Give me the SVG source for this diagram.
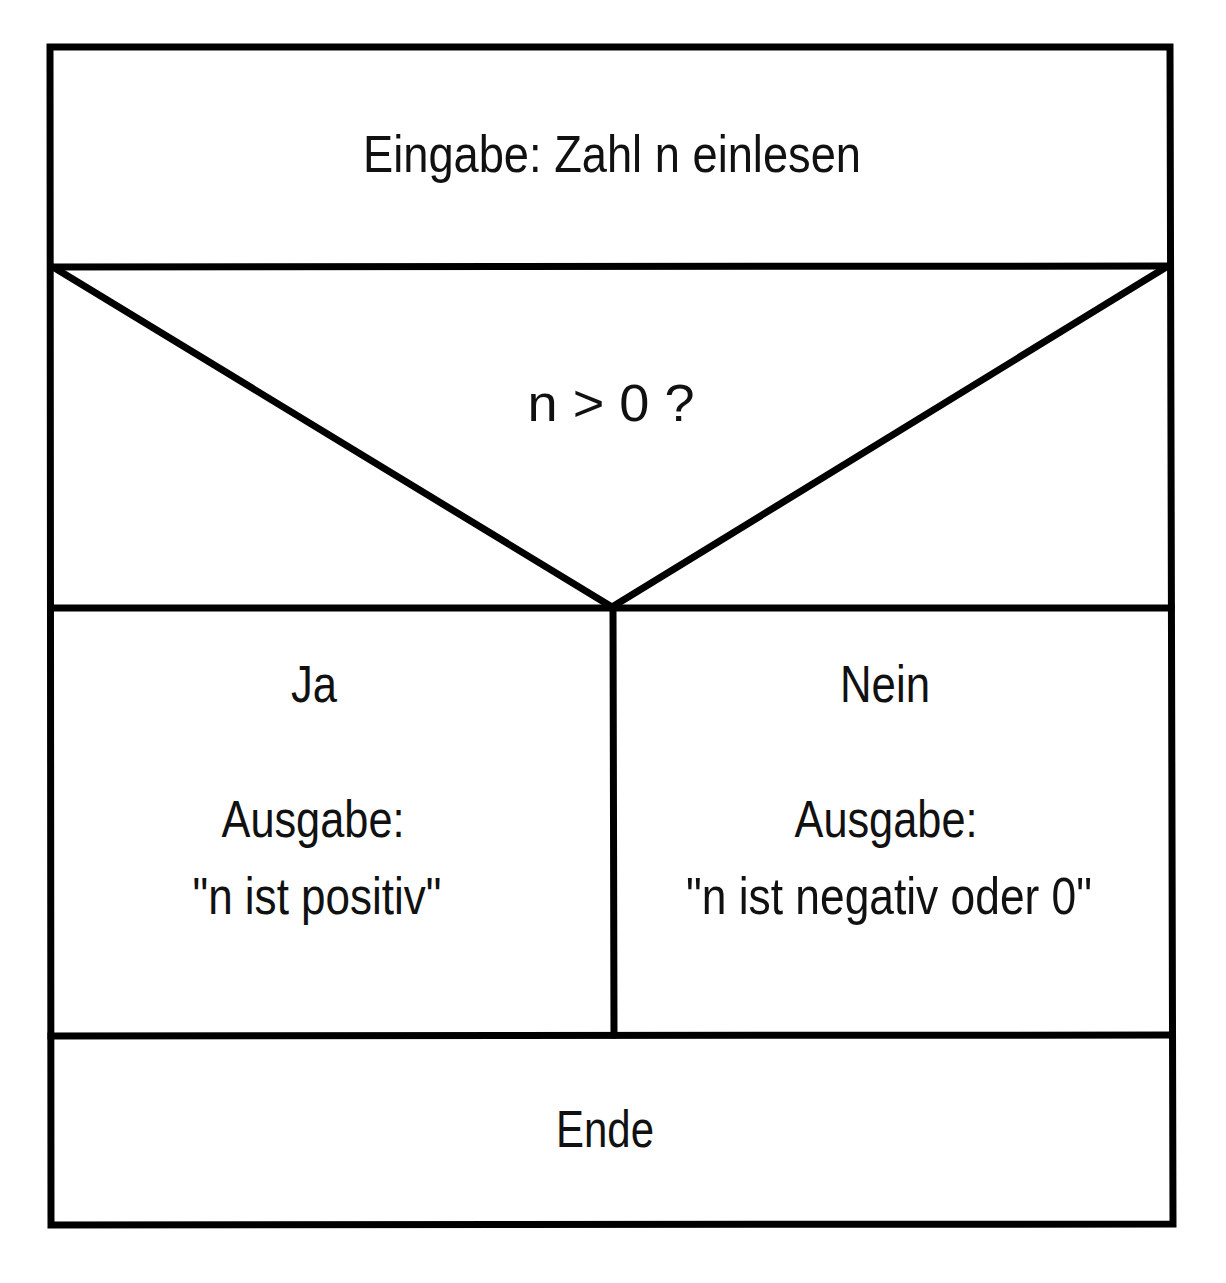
<svg xmlns="http://www.w3.org/2000/svg" width="1226" height="1283" viewBox="0 0 1226 1283">
<style>
.ln{fill:none;stroke:#000;stroke-width:7;stroke-linejoin:miter;stroke-linecap:square}
.t{font-family:"Liberation Sans",Arial,Helvetica,sans-serif;font-size:52px;fill:#111;text-anchor:middle}
</style>
<rect width="1226" height="1283" fill="#fff"/>
<g id="frame">
<path class="ln" d="M50,47 L1170,47 L1173,1224 L51,1225 Z"/>
</g>
<g id="connectors">
<line class="ln" x1="51" y1="267" x2="1170" y2="266"/>
<line class="ln" x1="53" y1="267" x2="612" y2="607" style="stroke-linecap:butt"/>
<line class="ln" x1="1168" y1="266" x2="612" y2="607" style="stroke-linecap:butt"/>
<line class="ln" x1="51" y1="608" x2="1171" y2="608"/>
<line class="ln" x1="613" y1="608" x2="614" y2="1035"/>
<line class="ln" x1="51" y1="1036" x2="1172" y2="1035"/>
</g>
<g id="node-input">
<text class="t" x="612" y="172" textLength="498" lengthAdjust="spacingAndGlyphs">Eingabe: Zahl n einlesen</text>
</g>
<g id="node-decision">
<text class="t" x="611" y="421" textLength="167" lengthAdjust="spacingAndGlyphs">n &gt; 0 ?</text>
</g>
<g id="node-yes">
<text class="t" x="314" y="702" textLength="46" lengthAdjust="spacingAndGlyphs">Ja</text>
<text class="t" x="313" y="837" textLength="183" lengthAdjust="spacingAndGlyphs">Ausgabe:</text>
<text class="t" x="317" y="914" textLength="249" lengthAdjust="spacingAndGlyphs">"n ist positiv"</text>
</g>
<g id="node-no">
<text class="t" x="885" y="702" textLength="90" lengthAdjust="spacingAndGlyphs">Nein</text>
<text class="t" x="886" y="837" textLength="183" lengthAdjust="spacingAndGlyphs">Ausgabe:</text>
<text class="t" x="889" y="914" textLength="406" lengthAdjust="spacingAndGlyphs">"n ist negativ oder 0"</text>
</g>
<g id="node-end">
<text class="t" x="605" y="1147" textLength="98" lengthAdjust="spacingAndGlyphs">Ende</text>
</g>
</svg>
